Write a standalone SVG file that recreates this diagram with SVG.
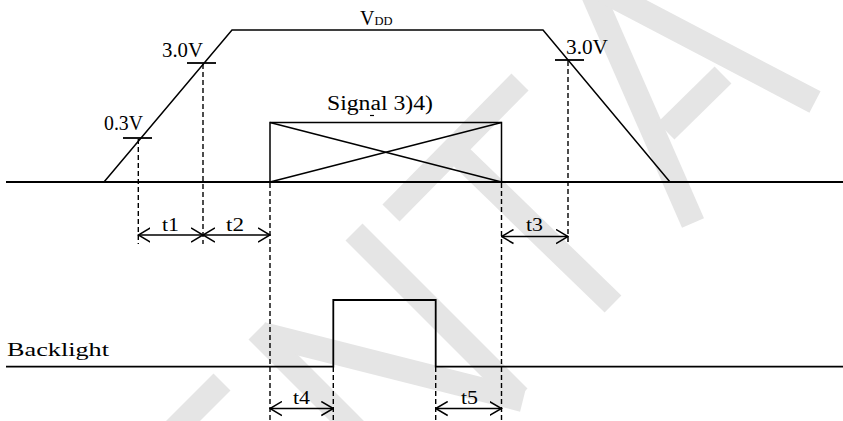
<svg xmlns="http://www.w3.org/2000/svg" width="843" height="421" viewBox="0 0 843 421">
<style>
.wm{stroke:#e5e5e5;stroke-width:24;stroke-linecap:butt;fill:none}
.ln{stroke:#000;stroke-width:1.8;fill:none}
.thin{stroke:#000;stroke-width:1.5;fill:none}
.dash{stroke:#000;stroke-width:1.4;stroke-dasharray:5 3;fill:none}
.dim{stroke:#000;stroke-width:1.5;fill:none;marker-start:url(#ah);marker-end:url(#ah)}
.t{font-family:"Liberation Serif","Times New Roman",serif;fill:#000}
.s19{font-size:19px}
.s20{font-size:20px}
.s21{font-size:21px}
.s22{font-size:22px}
.s12{font-size:12.5px}
</style>
<defs>
<marker id="ah" viewBox="0 0 13 16" refX="12" refY="8" markerWidth="13" markerHeight="16" orient="auto-start-reverse" markerUnits="userSpaceOnUse">
<path d="M0,1 L12,8 L0,15" fill="none" stroke="#000" stroke-width="1.5"/>
</marker>
</defs>
<rect width="843" height="421" fill="#fff"/>
<g id="watermark">
<line class="wm" x1="222" y1="382" x2="150" y2="454"/>
<line class="wm" x1="257" y1="331" x2="360" y2="434"/>
<line class="wm" x1="262" y1="334" x2="523" y2="400"/>
<line class="wm" x1="354" y1="232" x2="519" y2="397"/>
<line class="wm" x1="391" y1="213" x2="520" y2="82"/>
<line class="wm" x1="450" y1="146" x2="613" y2="304"/>
<line class="wm" x1="588" y1="-17" x2="693" y2="223"/>
<line class="wm" x1="588" y1="-17" x2="815" y2="102"/>
<line class="wm" x1="723" y1="75" x2="666" y2="131"/>
</g>
<g id="connectors">
<line class="ln" x1="6" y1="182" x2="843" y2="182"/>
<path id="vdd-curve" class="thin" d="M104,182 L232,30 L543,30 L670,182"/>
<line class="ln" x1="123" y1="138" x2="152" y2="138"/>
<line class="ln" x1="187" y1="63" x2="216" y2="63"/>
<line class="ln" x1="555" y1="60" x2="584" y2="60"/>
<line class="dash" x1="138.3" y1="139" x2="138.3" y2="244"/>
<line class="dash" x1="203" y1="64" x2="203" y2="244"/>
<line class="dash" x1="568" y1="61" x2="568" y2="244"/>
<line class="dash" x1="270" y1="183" x2="270" y2="421"/>
<line class="dash" x1="501.5" y1="183" x2="501.5" y2="421"/>
<line class="dash" x1="333.3" y1="367" x2="333.3" y2="421"/>
<line class="dash" x1="435.7" y1="367" x2="435.7" y2="421"/>
<line class="dim" x1="138.3" y1="235" x2="203" y2="235"/>
<line class="dim" x1="203" y1="235" x2="270" y2="235"/>
<line class="dim" x1="501.5" y1="236.5" x2="568" y2="236.5"/>
<line class="dim" x1="270" y1="408.5" x2="333.3" y2="408.5"/>
<line class="dim" x1="435.7" y1="408.5" x2="501.5" y2="408.5"/>
<path id="backlight-curve" class="ln" d="M6,366.7 H333.3 V300 H435.7 V366.7 H843"/>
</g>
<g id="signal-box">
<rect class="thin" x="270" y="122.5" width="231.5" height="59.5"/>
<line class="thin" x1="270" y1="122.5" x2="501.5" y2="182"/>
<line class="thin" x1="270" y1="182" x2="501.5" y2="122.5"/>
<line stroke="#000" stroke-width="1.2" x1="370" y1="115.5" x2="374" y2="115.5"/>
<text class="t s20" x="327" y="110" textLength="106" lengthAdjust="spacingAndGlyphs">Signal 3)4)</text>
</g>
<g id="labels">
<text class="t" x="360" y="25"><tspan class="s20">V</tspan><tspan class="s12">DD</tspan></text>
<text class="t s21" x="104" y="130" textLength="39" lengthAdjust="spacingAndGlyphs">0.3V</text>
<text class="t s22" x="162" y="57" textLength="41" lengthAdjust="spacingAndGlyphs">3.0V</text>
<text class="t s22" x="566" y="54" textLength="42" lengthAdjust="spacingAndGlyphs">3.0V</text>
<text class="t s19" x="162" y="231" textLength="17" lengthAdjust="spacingAndGlyphs">t1</text>
<text class="t s19" x="226" y="231" textLength="18" lengthAdjust="spacingAndGlyphs">t2</text>
<text class="t s19" x="526" y="231" textLength="17" lengthAdjust="spacingAndGlyphs">t3</text>
<text class="t s19" x="293" y="404" textLength="17" lengthAdjust="spacingAndGlyphs">t4</text>
<text class="t s19" x="461" y="404" textLength="17" lengthAdjust="spacingAndGlyphs">t5</text>
<text class="t s19" x="7" y="356" textLength="102" lengthAdjust="spacingAndGlyphs">Backlight</text>
</g>
</svg>
